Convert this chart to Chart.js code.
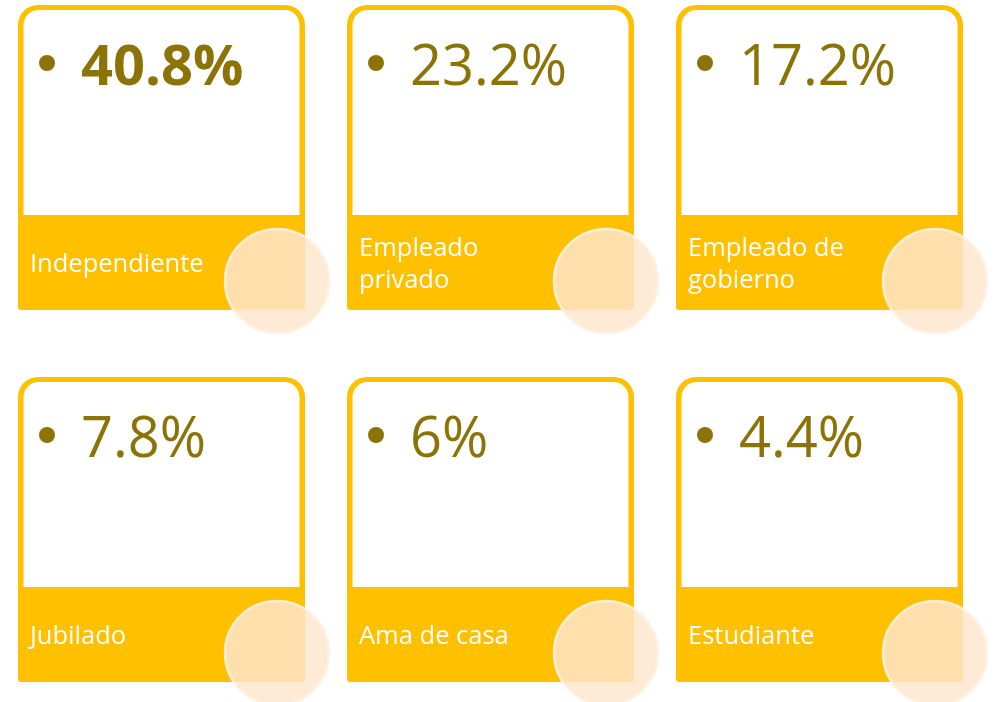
<!DOCTYPE html>
<html>
<head>
<meta charset="utf-8">
<script src="https://cdn.jsdelivr.net/npm/chart.js@4.4.1/dist/chart.umd.min.js"></script>
<style>
  html, body { margin: 0; padding: 0; background: #ffffff; }
  #wrap { width: 994px; height: 702px; position: relative; }
</style>
</head>
<body>
<div id="wrap"><canvas id="cards-chart"></canvas></div>
<script>
const categories = [
    ['Independiente'],
    ['Empleado', 'privado'],
    ['Empleado de', 'gobierno'],
    ['Jubilado'],
    ['Ama de casa'],
    ['Estudiante']
];
const values = [40.8, 23.2, 17.2, 7.8, 6, 4.4];
const columns = [0, 1, 2, 0, 1, 2];
const rows = [0, 0, 0, 1, 1, 1];

const yellow = '#FFC000';
const gold = '#8C7306';

function roundRect(ctx, x, y, w, h, rt, rb) {
    ctx.beginPath();
    ctx.moveTo(x + rt, y);
    ctx.lineTo(x + w - rt, y);
    ctx.arcTo(x + w, y, x + w, y + rt, rt);
    ctx.lineTo(x + w, y + h - rb);
    ctx.arcTo(x + w, y + h, x + w - rb, y + h, rb);
    ctx.lineTo(x + rb, y + h);
    ctx.arcTo(x, y + h, x, y + h - rb, rb);
    ctx.lineTo(x, y + rt);
    ctx.arcTo(x, y, x + rt, y, rt);
    ctx.closePath();
}

// cards are drawn under the dataset, anchored on each point's pixel position
const cardsPlugin = {
    id: 'cards',
    beforeDatasetsDraw(chart) {
        const ctx = chart.ctx;
        const xs = chart.scales.x;
        const ys = chart.scales.y;
        const maxVal = Math.max(...values);
        ctx.save();
        values.forEach((v, i) => {
            const px = xs.getPixelForValue(columns[i]);
            const py = ys.getPixelForValue(rows[i]);
            const left = px - 259, right = px + 28;
            const top = py - 276, band = py - 66, bottom = py + 29;

            ctx.fillStyle = yellow;
            roundRect(ctx, left, top, right - left, bottom - top, 20, 3);
            ctx.fill();
            ctx.fillStyle = '#ffffff';
            roundRect(ctx, left + 5.5, top + 5, right - left - 11, band - top - 5, 15, 0);
            ctx.fill();

            // bullet + value
            ctx.fillStyle = gold;
            ctx.beginPath();
            ctx.arc(left + 29, top + 58, 8, 0, Math.PI * 2);
            ctx.fill();
            ctx.font = (v === maxVal ? 'bold ' : '') + '56px "Open Sans"';
            ctx.textAlign = 'left';
            ctx.textBaseline = 'alphabetic';
            ctx.fillText(v + '%', left + 63, top + 80);

            // label
            ctx.fillStyle = '#ffffff';
            ctx.font = '25.5px "Open Sans"';
            const lines = categories[i];
            const base = top + 267 - (lines.length - 1) * 16;
            lines.forEach((t, k) => ctx.fillText(t, left + 12, base + k * 32));
        });
        ctx.restore();
    }
};

const data = {
    datasets: [{
        label: 'Ocupación',
        data: values.map((v, i) => ({ x: columns[i], y: rows[i], v: v })),
        pointRadius: 52,
        pointHoverRadius: 52,
        pointBorderWidth: 2.5,
        backgroundColor: 'rgba(255, 230, 205, 0.84)',
        borderColor: 'rgba(255, 241, 226, 0.9)'
    }]
};

const config = {
    type: 'scatter',
    data: data,
    options: {
        responsive: true,
        maintainAspectRatio: false,
        animation: false,
        layout: { padding: 0, autoPadding: false },
        plugins: {
            legend: { display: false },
            tooltip: { enabled: false }
        },
        scales: {
            x: { display: false, min: -277 / 329, max: (994 - 277) / 329 },
            y: { display: false, reverse: true, min: -281 / 372, max: (702 - 281) / 372 }
        }
    },
    plugins: [cardsPlugin]
};

const cardsChart = new Chart(document.getElementById('cards-chart'), config);
</script>
</body>
</html>
